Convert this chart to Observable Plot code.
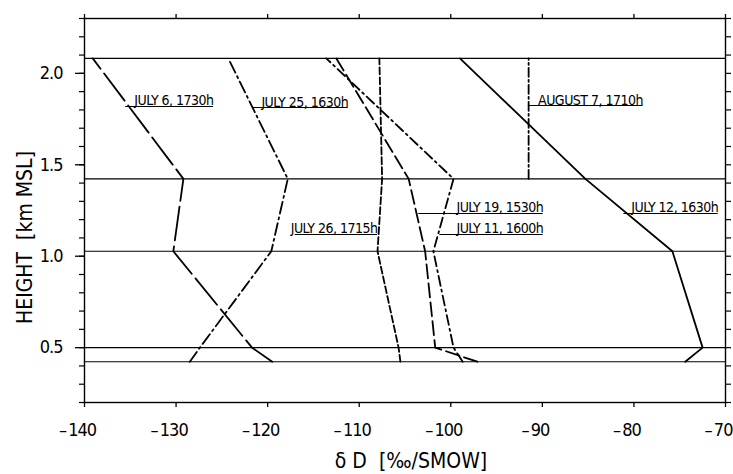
<!DOCTYPE html>
<html>
<head>
<meta charset="utf-8">
<script src="https://cdn.jsdelivr.net/npm/d3@7"></script>
<script src="https://cdn.jsdelivr.net/npm/@observablehq/plot@0.6"></script>
<style>
  html, body { margin: 0; padding: 0; background: #fff; }
  #chart { width: 733px; height: 474px; }
  #chart svg text { font-family: 'DejaVu Sans Condensed', 'DejaVu Sans', sans-serif; font-stretch: condensed; }
  #chart svg [aria-label="x-axis tick label"] text { letter-spacing: -1px; }
  #chart svg [aria-label="y-axis tick label"] text { letter-spacing: -1px; }
  #chart svg .lab text { letter-spacing: -0.5px; }
</style>
</head>
<body>
<div id="chart"></div>
<script>
// Heights (km MSL) of the layer boundaries at which each profile was sampled
const heights = [0.423, 0.5, 1.027, 1.423, 2.082];
// δD values (‰ SMOW) at those heights, bottom to top
const july6  = [-119.5, -121.7, -130.3, -129.2, -139.1];
const july25 = [-128.5, -127.4, -119.6, -117.8, -124.3];
const july19 = [-97.1, -101.7, -102.8, -104.6, -112.5];
const july11 = [-98.7, -99.7, -101.9, -99.7, -113.6];
const july26 = [-105.5, -105.7, -108.0, -107.5, -107.8];
const july12 = [-74.4, -72.5, -75.8, -85.3, -99.0];
const aug7Heights = [1.423, 2.082];
const aug7 = [-91.5, -91.5];

// Horizontal layer boundaries
const layers = [0.423, 0.5, 1.027, 1.423, 2.082];

// Ticks
const xTicks = [-140, -130, -120, -110, -100, -90, -80, -70];
const yMajor = [0.5, 1.0, 1.5, 2.0];
const yMinor = d3.range(2, 24).map(d => d / 10);

// Profile labels (underlined, with leader to the curve)
const labelText = ["JULY 6, 1730h", "JULY 25, 1630h", "AUGUST 7, 1710h", "JULY 19, 1530h", "JULY 11, 1600h", "JULY 26, 1715h", "JULY 12, 1630h"];
const labelY  = [1.819, 1.813, 1.824, 1.234, 1.119, 1.119, 1.234];
const labelX1 = [-135.5, -121.65, -91.5, -103.5, -101.2, -117.0, -81.1];
const labelX2 = [-125.9, -111.2, -79.0, -89.9, -89.9, -108.0, -70.8];

function profile(xs, hs, dash) {
  const idx = d3.range(xs.length);
  return Plot.line(idx, {x: i => xs[i], y: i => hs[i], stroke: "black", strokeWidth: 1.8, strokeDasharray: dash});
}

const labIdx = d3.range(labelText.length);
const fmtX = d => d < 0 ? "\u2013\u2009" + Math.abs(d) : String(d);

const chart = Plot.plot({
  width: 733,
  height: 474,
  marginLeft: 84,
  marginRight: 8,
  marginTop: 18,
  marginBottom: 72,
  x: {domain: [-140, -70]},
  y: {domain: [0.2, 2.3]},
  style: {background: "white", color: "black"},
  marks: [
    Plot.frame({stroke: "black", strokeWidth: 1.4}),
    Plot.ruleY(layers, {stroke: "black", strokeWidth: 1.1}),
    profile(july6, heights, "34,6"),
    profile(july25, heights, "12,4,2,4"),
    profile(july19, heights, "14,5"),
    profile(july11, heights, "10,4,2,4"),
    profile(july26, heights, "7,3"),
    profile(july12, heights, null),
    profile(aug7, aug7Heights, "9,3,2,3"),
    Plot.ruleY(labIdx, {y: i => labelY[i], x1: i => labelX1[i], x2: i => labelX2[i], stroke: "black", strokeWidth: 1.1}),
    Plot.text(labIdx, {x: i => labelX2[i], y: i => labelY[i], text: i => labelText[i], textAnchor: "end", lineAnchor: "bottom", dy: -1, fontSize: 14, fill: "black", className: "lab"}),
    Plot.axisX(xTicks, {anchor: "bottom", tickSize: 5, tickFormat: () => "", strokeWidth: 1.3, label: null}),
    Plot.axisX(xTicks, {anchor: "bottom", tickSize: 0, tickPadding: 21, dx: -7, tickFormat: fmtX, fontSize: 18, label: null}),
    Plot.axisX(xTicks, {anchor: "top", tickSize: 5, tickFormat: () => "", strokeWidth: 1.3, label: null}),
    Plot.axisY(yMinor, {anchor: "left", tickSize: 5, tickFormat: () => "", strokeWidth: 1.2, label: null}),
    Plot.axisY(yMajor, {anchor: "left", tickSize: 9, tickPadding: 13, tickFormat: d3.format(".1f"), fontSize: 18, strokeWidth: 1.3, label: null}),
    Plot.axisY(yMinor, {anchor: "right", tickSize: 5, tickFormat: () => "", strokeWidth: 1.2, label: null}),
    Plot.text(["\u03b4 D  [\u2030/SMOW]"], {frameAnchor: "bottom", textAnchor: "middle", lineAnchor: "middle", dx: 6, dy: 59, fontSize: 21, fill: "black"}),
    Plot.text(["HEIGHT  [km MSL]"], {frameAnchor: "left", textAnchor: "middle", lineAnchor: "middle", rotate: -90, dx: -59, dy: 27, fontSize: 21, fill: "black"})
  ]
});

document.getElementById("chart").appendChild(chart);
</script>
</body>
</html>
